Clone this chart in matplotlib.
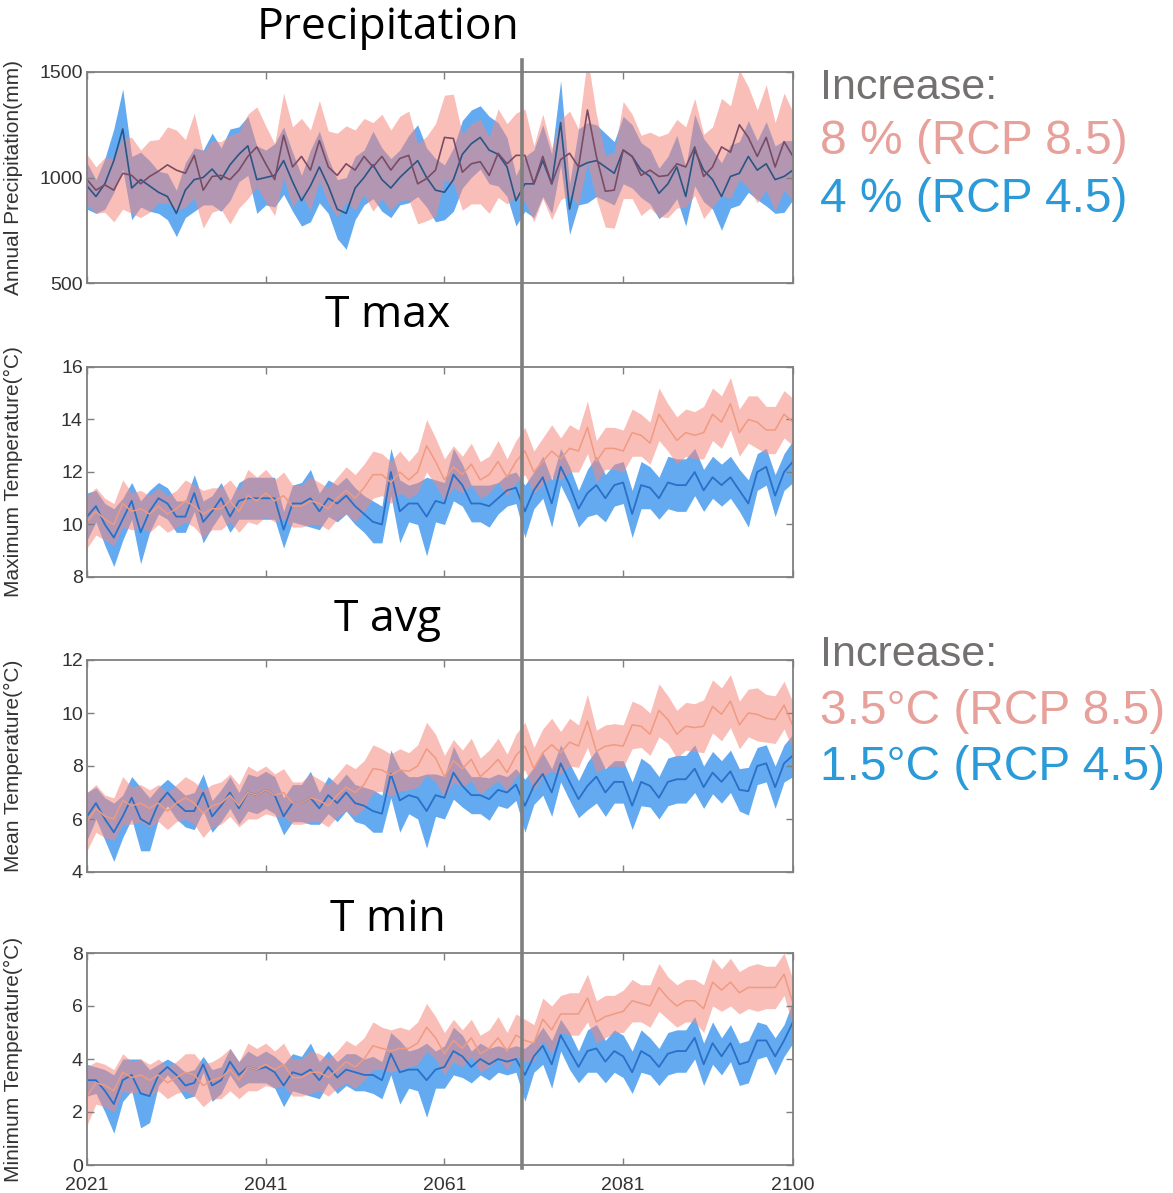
import numpy as np
import matplotlib
matplotlib.use("Agg")
import matplotlib.pyplot as plt
from matplotlib.lines import Line2D

years = np.arange(2021, 2101)

# ---- Precipitation (mm) ----
pr45_mean = [960, 910, 970, 1080, 1230, 950, 990, 960, 930, 910,
             830, 940, 990, 1000, 1040, 990, 1060, 1110, 1150, 990,
             1000, 1010, 1080, 980, 890, 960, 1050, 960, 850, 830,
             950, 1000, 1060, 990, 950, 1000, 1040, 1080, 1000, 940,
             930, 990, 1110, 1160, 1190, 1130, 1110, 1050, 890, 970,
             970, 1080, 970, 1260, 850, 1050, 1070, 1080, 1050, 1020,
             1130, 1100, 1035, 1005, 925, 970, 1050, 910, 1130, 1035,
             990, 910, 1005, 1020, 1100, 1035, 1065, 990, 1005, 1035]
pr45_hw = [110, 80, 120, 150, 190, 150, 130, 120, 100, 110,
           110, 130, 150, 130, 170, 150, 170, 130, 140, 160,
           130, 150, 160, 140, 120, 170, 170, 130, 140, 170,
           150, 130, 160, 150, 140, 130, 160, 170, 140, 150,
           130, 150, 160, 160, 150, 160, 150, 140, 120, 130,
           160, 170, 140, 200, 120, 180, 190, 170, 160, 150,
           160, 150, 130, 130, 120, 130, 150, 140, 170, 150,
           140, 160, 150, 150, 170, 140, 200, 160, 170, 140]
pr85_mean = [990, 940, 965, 940, 1020, 1010, 970, 1005, 1030, 1060,
             1035, 1020, 1105, 940, 1005, 1010, 990, 1035, 1100, 1145,
             1065, 990, 1200, 1050, 1100, 1035, 1175, 1050, 1010, 1065,
             1035, 1100, 1050, 1100, 1035, 1090, 1105, 970, 995, 1035,
             1190, 1185, 1025, 1065, 1075, 1010, 1115, 1065, 1105, 1105,
             970, 1100, 970, 1085, 1115, 1050, 1320, 1100, 935, 940,
             1130, 1100, 1010, 1035, 1005, 1010, 1065, 1050, 1145, 1005,
             1050, 1145, 1120, 1250, 1190, 1100, 1190, 1050, 1170, 1100]
pr85_hw = [120, 110, 130, 150, 170, 180, 160, 170, 150, 180,
           190, 160, 200, 180, 170, 160, 210, 180, 200, 190,
           180, 170, 200, 190, 180, 190, 190, 170, 200, 180,
           190, 180, 210, 200, 190, 200, 210, 190, 200, 220,
           200, 210, 180, 190, 200, 180, 210, 190, 200, 220,
           180, 200, 170, 190, 200, 180, 250, 200, 170, 180,
           230, 200, 190, 180, 190, 200, 210, 190, 230, 200,
           190, 230, 220, 260, 240, 220, 250, 210, 230, 210]

# ---- Maximum temperature (degC) ----
tx45_mean = [10.3, 10.7, 10.0, 9.5, 10.2, 10.9, 9.7, 10.5, 11.0, 10.8,
             10.3, 10.3, 11.2, 10.1, 10.5, 11.0, 10.3, 10.9, 11.0, 11.0,
             11.0, 11.0, 9.8, 10.8, 10.8, 11.0, 10.5, 11.0, 10.8, 11.1,
             10.7, 10.4, 10.1, 10.0, 12.0, 10.5, 10.8, 10.8, 10.3, 10.9,
             10.8, 11.9, 11.5, 10.8, 10.8, 10.7, 11.0, 11.3, 11.4, 10.5,
             11.3, 11.8, 10.8, 12.2, 11.5, 10.6, 11.2, 11.5, 11.0, 11.5,
             11.6, 10.4, 11.5, 11.4, 11.0, 11.6, 11.5, 11.5, 12.0, 11.3,
             11.8, 11.5, 11.8, 11.3, 10.8, 12.0, 12.2, 11.1, 12.0, 12.4]
tx45_hw = [0.9, 0.6, 0.8, 1.1, 0.8, 0.7, 1.2, 0.8, 0.6, 0.6,
           0.6, 0.6, 0.7, 0.8, 0.6, 0.6, 0.6, 0.7, 0.8, 0.8,
           0.8, 0.8, 0.7, 0.7, 0.8, 1.1, 0.7, 0.7, 0.7, 0.7,
           0.7, 0.7, 0.8, 0.7, 0.9, 1.2, 0.7, 0.8, 1.5, 0.8,
           0.8, 1.0, 0.8, 0.7, 0.7, 0.8, 0.6, 0.6, 0.6, 1.0,
           0.7, 0.8, 0.9, 0.7, 0.7, 0.7, 0.9, 1.1, 0.9, 0.8,
           0.8, 0.9, 0.9, 0.8, 0.8, 1.0, 1.0, 1.0, 0.9, 0.8,
           0.8, 0.8, 0.8, 0.8, 0.9, 0.7, 0.7, 0.8, 0.7, 0.8]
tx85_mean = [10.1, 10.5, 10.2, 10.0, 10.8, 10.5, 10.6, 10.4, 10.7, 10.4,
             10.6, 10.9, 10.7, 10.4, 10.6, 10.6, 10.9, 10.5, 11.1, 10.9,
             11.2, 10.9, 11.1, 10.7, 10.7, 10.9, 10.8, 10.6, 11.0, 11.3,
             11.0, 11.4, 11.9, 11.9, 11.6, 12.0, 11.7, 12.0, 13.0, 12.4,
             11.7, 12.2, 11.9, 12.3, 11.7, 11.9, 12.4, 11.8, 12.4, 12.8,
             12.0, 12.4, 12.8, 12.5, 12.9, 12.8, 13.7, 12.4, 12.9, 12.9,
             12.8, 13.5, 13.4, 13.1, 14.2, 13.7, 13.2, 13.5, 13.4, 13.5,
             14.2, 13.9, 14.6, 13.5, 14.0, 13.9, 13.6, 13.6, 14.2, 13.9]
tx85_hw = [1.0, 0.9, 0.8, 0.8, 0.9, 0.7, 0.7, 0.7, 0.7, 0.7,
           0.7, 0.8, 0.8, 0.9, 0.8, 0.8, 0.8, 0.8, 1.0, 0.9,
           0.9, 0.8, 0.9, 0.8, 0.8, 0.9, 0.8, 0.8, 0.8, 0.9,
           0.9, 0.9, 0.9, 0.8, 0.8, 0.8, 0.7, 0.8, 1.0, 0.9,
           0.8, 0.8, 0.7, 0.8, 0.7, 0.7, 0.8, 0.7, 0.8, 0.9,
           0.8, 0.9, 1.0, 0.8, 0.9, 0.8, 1.0, 0.8, 0.8, 0.8,
           0.8, 0.9, 0.8, 0.8, 1.0, 0.9, 0.9, 0.9, 0.9, 1.0,
           1.0, 1.0, 1.0, 0.9, 0.9, 1.0, 0.9, 0.9, 0.9, 0.9]

# ---- Mean temperature (degC) ----
ta45_mean = [6.1, 6.6, 6.0, 5.5, 6.1, 6.8, 6.0, 5.8, 6.6, 7.0,
             6.6, 6.3, 6.3, 7.0, 6.1, 6.5, 7.0, 6.4, 7.0, 6.9,
             7.1, 6.9, 6.1, 6.6, 6.6, 6.8, 6.4, 6.9, 6.6, 7.0,
             6.6, 6.5, 6.3, 6.2, 7.7, 6.7, 6.9, 6.8, 6.3, 6.9,
             6.8, 7.75, 7.25, 6.9, 6.9, 6.75, 7.1, 7.0, 7.3, 6.5,
             7.25, 7.7, 7.0, 8.1, 7.4, 6.75, 7.25, 7.6, 7.0, 7.4,
             7.4, 6.5, 7.4, 7.25, 6.8, 7.4, 7.5, 7.5, 7.9, 7.2,
             7.75, 7.4, 7.8, 7.1, 7.05, 8.0, 8.1, 7.2, 8.1, 8.4]
ta45_hw = [0.9, 0.6, 0.8, 1.1, 0.8, 0.8, 1.2, 1.0, 0.6, 0.5,
           0.6, 0.6, 0.7, 0.7, 0.6, 0.6, 0.6, 0.6, 0.7, 0.7,
           0.7, 0.7, 0.7, 0.7, 0.7, 1.0, 0.6, 0.7, 0.7, 0.7,
           0.7, 0.7, 0.8, 0.7, 0.9, 1.2, 0.7, 0.8, 1.4, 0.8,
           0.8, 1.0, 0.8, 0.7, 0.7, 0.8, 0.6, 0.6, 0.6, 1.0,
           0.7, 0.8, 0.9, 0.7, 0.7, 0.7, 0.9, 1.0, 0.9, 0.8,
           0.8, 0.9, 0.9, 0.8, 0.8, 0.9, 0.9, 0.9, 0.9, 0.8,
           0.8, 0.8, 0.8, 0.8, 0.9, 0.7, 0.7, 0.8, 0.7, 0.8]
ta85_mean = [5.9, 6.4, 6.1, 6.0, 6.7, 6.5, 6.6, 6.4, 6.6, 6.3,
             6.6, 6.8, 6.6, 6.2, 6.5, 6.6, 6.9, 6.5, 7.0, 6.9,
             7.1, 6.9, 7.0, 6.6, 6.6, 6.8, 6.7, 6.5, 6.9, 7.2,
             7.0, 7.3, 7.9, 7.85, 7.65, 7.85, 7.8, 8.0, 8.65, 8.3,
             7.6, 8.2, 7.9, 8.25, 7.6, 7.9, 8.25, 7.75, 8.4, 8.75,
             7.9, 8.5, 8.8, 8.5, 8.9, 8.75, 9.7, 8.55, 8.75, 8.8,
             8.75, 9.55, 9.5, 9.2, 10.1, 9.75, 9.2, 9.5, 9.45, 9.5,
             10.25, 9.95, 10.45, 9.55, 10.0, 9.95, 9.8, 9.75, 10.3, 9.5]
ta85_hw = [1.1, 0.9, 0.8, 0.8, 0.9, 0.7, 0.7, 0.7, 0.7, 0.7,
           0.7, 0.8, 0.8, 0.9, 0.8, 0.8, 0.8, 0.8, 1.0, 0.9,
           0.9, 0.8, 0.9, 0.8, 0.8, 0.9, 0.8, 0.8, 0.8, 0.9,
           0.9, 0.9, 0.9, 0.8, 0.8, 0.8, 0.7, 0.8, 1.0, 0.9,
           0.8, 0.8, 0.7, 0.8, 0.7, 0.7, 0.8, 0.7, 0.8, 0.9,
           0.8, 0.9, 1.0, 0.8, 0.9, 0.8, 1.0, 0.8, 0.8, 0.8,
           0.8, 0.9, 0.8, 0.8, 1.0, 0.9, 0.9, 0.9, 0.9, 1.0,
           1.0, 1.0, 1.0, 0.9, 0.9, 1.0, 0.9, 0.9, 0.9, 0.9]

# ---- Minimum temperature (degC) ----
tn45_mean = [3.2, 3.2, 2.8, 2.3, 3.2, 3.4, 2.7, 2.6, 3.4, 3.7,
             3.4, 3.0, 3.1, 3.8, 3.0, 3.2, 3.9, 3.4, 3.7, 3.6,
             3.7, 3.5, 3.0, 3.5, 3.4, 3.6, 3.2, 3.7, 3.3, 3.6,
             3.5, 3.4, 3.4, 3.2, 4.2, 3.5, 3.6, 3.6, 3.2, 3.6,
             3.7, 4.3, 4.1, 3.7, 4.0, 3.8, 4.0, 3.9, 4.0, 3.4,
             4.1, 4.5, 3.8, 4.9, 4.3, 3.7, 4.3, 4.4, 3.9, 4.3,
             4.1, 3.5, 4.3, 4.1, 3.7, 4.2, 4.3, 4.3, 4.8, 3.8,
             4.6, 4.1, 4.6, 3.8, 3.9, 4.7, 4.7, 4.1, 4.7, 5.4]
tn45_hw = [0.6, 0.5, 0.8, 1.1, 0.8, 0.6, 1.3, 1.0, 0.4, 0.3,
           0.4, 0.5, 0.5, 0.3, 0.6, 0.5, 0.5, 0.5, 0.6, 0.5,
           0.6, 0.6, 0.8, 0.7, 0.7, 1.0, 0.7, 0.6, 0.6, 0.6,
           0.7, 0.6, 0.7, 0.7, 0.8, 1.2, 0.7, 0.8, 1.4, 0.7,
           0.8, 0.9, 0.8, 0.6, 0.6, 0.6, 0.5, 0.5, 0.5, 1.0,
           0.6, 0.7, 0.9, 0.6, 0.7, 0.6, 0.8, 0.9, 0.8, 0.8,
           0.8, 0.8, 0.8, 0.7, 0.7, 0.8, 0.8, 0.8, 0.8, 0.8,
           0.8, 0.7, 0.7, 0.8, 0.8, 0.7, 0.6, 0.7, 0.6, 0.8]
tn85_mean = [2.6, 3.1, 3.0, 2.8, 3.5, 3.3, 3.4, 3.2, 3.4, 3.1,
             3.3, 3.5, 3.4, 3.0, 3.2, 3.3, 3.6, 3.2, 3.7, 3.6,
             3.8, 3.6, 3.8, 3.3, 3.3, 3.5, 3.5, 3.3, 3.6, 3.9,
             3.7, 4.0, 4.5, 4.4, 4.3, 4.4, 4.4, 4.6, 5.2, 4.8,
             4.2, 4.7, 4.4, 4.8, 4.2, 4.4, 4.8, 4.3, 4.9, 4.7,
             4.6, 5.5, 5.1, 5.7, 5.7, 5.7, 6.3, 5.4, 5.6, 5.7,
             5.8, 6.2, 6.1, 6.0, 6.7, 6.3, 6.0, 6.2, 6.2, 5.9,
             6.9, 6.6, 6.9, 6.5, 6.7, 6.7, 6.7, 6.7, 7.2, 6.1]
tn85_hw = [1.1, 0.8, 0.8, 0.8, 0.7, 0.6, 0.6, 0.6, 0.6, 0.6,
           0.6, 0.7, 0.8, 0.8, 0.7, 0.8, 0.8, 0.7, 0.9, 0.8,
           0.8, 0.7, 0.8, 0.7, 0.7, 0.8, 0.7, 0.7, 0.7, 0.8,
           0.8, 0.8, 0.9, 0.8, 0.8, 0.8, 0.7, 0.8, 0.9, 0.8,
           0.8, 0.8, 0.7, 0.7, 0.7, 0.7, 0.8, 0.7, 0.8, 0.8,
           0.7, 0.8, 0.9, 0.7, 0.8, 0.8, 0.9, 0.8, 0.8, 0.7,
           0.8, 0.8, 0.7, 0.8, 0.9, 0.8, 0.8, 0.8, 0.8, 0.9,
           0.9, 0.8, 0.9, 0.8, 0.8, 0.9, 0.8, 0.8, 0.8, 0.9]

panels = [
    ("Precipitation", "Annual Precipitation(mm)", (500, 1500), [500, 1000, 1500],
     pr45_mean, pr45_hw, pr85_mean, pr85_hw),
    ("T max", "Maximum Temperature(\u00b0C)", (8, 16), [8, 10, 12, 14, 16],
     tx45_mean, tx45_hw, tx85_mean, tx85_hw),
    ("T avg", "Mean Temperature(\u00b0C)", (4, 12), [4, 6, 8, 10, 12],
     ta45_mean, ta45_hw, ta85_mean, ta85_hw),
    ("T min", "Minimum Temperature(\u00b0C)", (0, 8), [0, 2, 4, 6, 8],
     tn45_mean, tn45_hw, tn85_mean, tn85_hw),
]
xticks = [2021, 2041, 2061, 2081, 2100]

W, H = 1173, 1193
fig = plt.figure(figsize=(W / 100, H / 100), dpi=100)
plt.rcParams['font.family'] = ['Liberation Sans', 'DejaVu Sans']

# panel boxes in pixels: (top, bottom)
boxes = [(72, 283), (367, 577), (660, 872), (953, 1165)]
title_y = [28, 316, 620, 920]
left_px, right_px = 87, 793

blue_fill = '#64aaf0'
pink_fill = '#f68980'
spine_c = '#7f7f7f'

for i, (title, ylabel, ylim, yticks, m45, h45, m85, h85) in enumerate(panels):
    top, bot = boxes[i]
    ax = fig.add_axes([left_px / W, 1 - bot / H, (right_px - left_px) / W, (bot - top) / H])
    m45, h45, m85, h85 = map(np.array, (m45, h45, m85, h85))
    ax.fill_between(years, m45 - h45, m45 + h45, color=blue_fill, lw=0)
    ax.fill_between(years, m85 - h85, m85 + h85, color=pink_fill, alpha=0.55, lw=0)
    if i == 0:
        ax.plot(years, m45, color='#2a5585', lw=1.2)
        ax.plot(years, m85, color='#7a4c64', lw=1.2)
    else:
        ax.plot(years, m45, color='#2870c8', lw=1.3)
        ax.plot(years, m85, color='#f09a80', lw=1.1)
    ax.set_xlim(2021, 2100)
    ax.set_ylim(*ylim)
    ax.set_yticks(yticks)
    ax.set_xticks(xticks)
    ax.tick_params(direction='in', top=True, right=True, length=5, width=1,
                   color=spine_c, labelsize=14, labelcolor='#333333', pad=3)
    ax.tick_params(axis='x', labelbottom=(i == 3), labelsize=14, pad=9)
    for s in ax.spines.values():
        s.set_color(spine_c)
        s.set_linewidth(1.3)
    ax.set_ylabel(ylabel, fontsize=15, color='#333333')
    ax.yaxis.set_label_coords(-0.09, 0.5)
    fig.text(388 / W, 1 - title_y[i] / H, title, fontsize=32, family='Open Sans',
             ha='center', va='center', color='black')

# divider line across panels
fig.add_artist(Line2D([522 / W, 522 / W], [1 - 60 / H, 1 - 1168 / H],
                      color='#7f7f7f', lw=2.6))

# annotation text
txt = [(88, "Increase:", '#757070', 31), (142, "8 % (RCP 8.5)", '#e8a09a', 34.5),
       (200, "4 % (RCP 4.5)", '#2a9ad8', 34.5),
       (655, "Increase:", '#757070', 31), (711, "3.5\u00b0C (RCP 8.5)", '#e8a09a', 34.5),
       (768, "1.5\u00b0C (RCP 4.5)", '#2a9ad8', 34.5)]
for y, s, c, fs in txt:
    fig.text(820 / W, 1 - y / H, s, fontsize=fs, color=c, ha='left', va='center')

fig.savefig('out.png', dpi=100)
